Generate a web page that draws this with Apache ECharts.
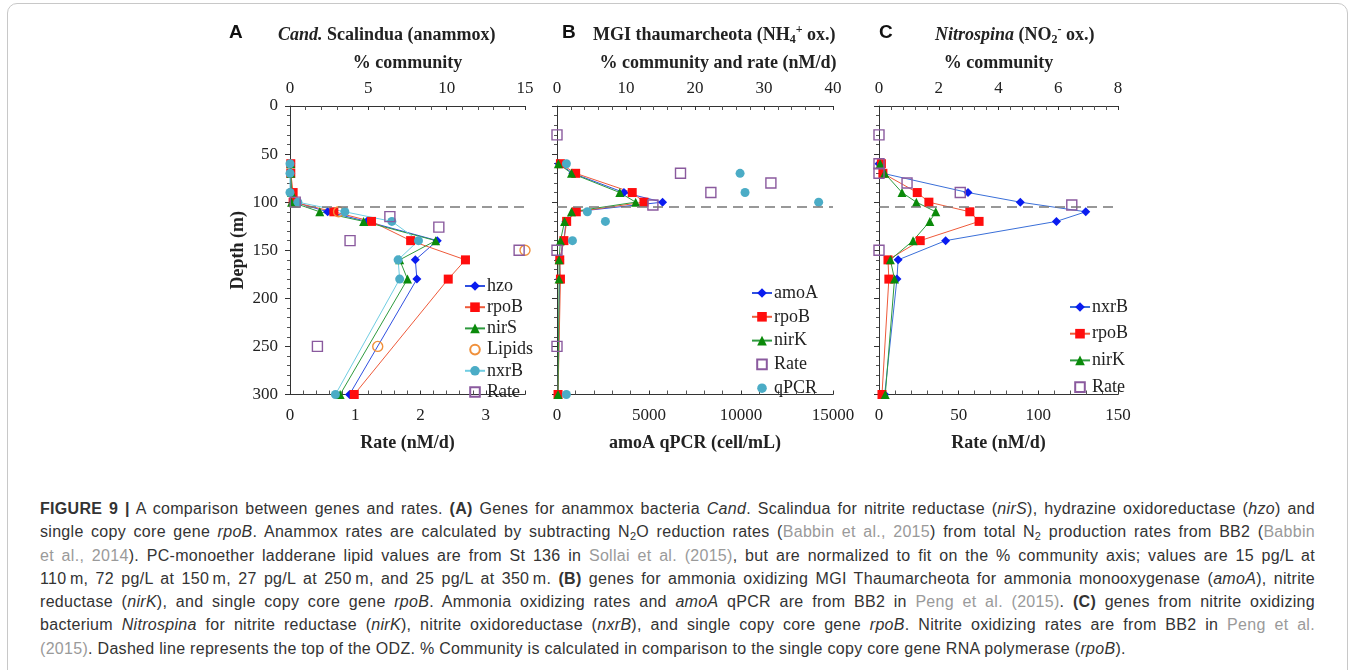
<!DOCTYPE html>
<html>
<head>
<meta charset="utf-8">
<script src="https://cdn.jsdelivr.net/npm/echarts@6/dist/echarts.min.js"></script>
<style>
  body { margin: 0; background: #fff; }
  #frame { position: absolute; left: 7px; top: 3px; width: 1339px; height: 720px; border: 1.5px solid #c8c8c8; border-radius: 10px; }
  #chart { position: absolute; left: 0; top: 0; width: 1355px; height: 470px; }
  #caption { position: absolute; left: 40px; top: 497px; width: 1275px; font-family: 'Liberation Sans', Arial, sans-serif; font-size: 16px; letter-spacing: 0.3px; line-height: 23.3px; color: #333; }
  #caption div { text-align: justify; text-align-last: justify; white-space: nowrap; }
  #caption div.last { text-align-last: left; }
  #caption .ref { color: #9a9a9a; }
  #caption sub { font-size: 11px; line-height: 0; vertical-align: -3px; }
</style>
</head>
<body>
<div id="frame"></div>
<div id="chart"></div>
<div id="caption">
  <div><b>FIGURE 9 |</b> A comparison between genes and rates. <b>(A)</b> Genes for anammox bacteria <i>Cand</i>. Scalindua for nitrite reductase (<i>nirS</i>), hydrazine oxidoreductase (<i>hzo</i>) and</div>
  <div>single copy core gene <i>rpoB</i>. Anammox rates are calculated by subtracting N<sub>2</sub>O reduction rates (<span class="ref">Babbin et al., 2015</span>) from total N<sub>2</sub> production rates from BB2 (<span class="ref">Babbin</span></div>
  <div><span class="ref">et al., 2014</span>). PC-monoether ladderane lipid values are from St 136 in <span class="ref">Sollai et al. (2015)</span>, but are normalized to fit on the % community axis; values are 15 pg/L at</div>
  <div>110&#8201;m, 72 pg/L at 150&#8201;m, 27 pg/L at 250&#8201;m, and 25 pg/L at 350&#8201;m. <b>(B)</b> genes for ammonia oxidizing MGI Thaumarcheota for ammonia monooxygenase (<i>amoA</i>), nitrite</div>
  <div>reductase (<i>nirK</i>), and single copy core gene <i>rpoB</i>. Ammonia oxidizing rates and <i>amoA</i> qPCR are from BB2 in <span class="ref">Peng et al. (2015)</span>. <b>(C)</b> genes from nitrite oxidizing</div>
  <div>bacterium <i>Nitrospina</i> for nitrite reductase (<i>nirK</i>), nitrite oxidoreductase (<i>nxrB</i>), and single copy core gene <i>rpoB</i>. Nitrite oxidizing rates are from BB2 in <span class="ref">Peng et al.</span></div>
  <div class="last"><span class="ref">(2015)</span>. Dashed line represents the top of the ODZ. % Community is calculated in comparison to the single copy core gene RNA polymerase (<i>rpoB</i>).</div>
</div>
<script>
// sampling depths (m) for the gene profiles
var geneDepths = [60, 70, 90, 100, 110, 120, 140, 160, 180, 300];

// A: Cand. Scalindua, % community
var hzoA = [0.05, 0.05, 0.1, 0.3, 2.4, 4.9, 9.4, 8.0, 8.1, 3.8];
var rpoBA = [0.05, 0.05, 0.2, 0.2, 2.8, 5.2, 7.7, 11.2, 10.1, 4.1];
var nirSA = [0.05, 0.05, 0.1, 0.1, 1.9, 4.7, 9.3, 7.0, 7.5, 3.2];
var nxrBA = [0, 0, 0, 0.5, 3.5, 6.5, 8.2, 6.9, 7.0, 2.9];
var lipidDepthsA = [110, 150, 250];
var lipidsA = [3.1, 15.0, 5.6];
var rateDepthsA = [100, 115, 126, 140, 150, 250];
var rateA = [0.08, 1.53, 2.28, 0.92, 3.51, 0.42];

// B: MGI thaumarcheota, % community and rate
var amoAB = [0.3, 2.3, 9.7, 15.3, 2.5, 1.3, 1.0, 0.4, 0.4, 0.15];
var rpoBB = [0.5, 2.7, 10.9, 12.6, 2.8, 1.4, 1.0, 0.4, 0.5, 0.15];
var nirKB = [0.2, 2.1, 9.1, 11.4, 2.1, 1.1, 0.5, 0.3, 0.3, 0.15];
var rateDepthsB = [30, 70, 80, 90, 103, 150, 250];
var rateB = [0, 17.9, 31, 22.3, 13.9, 0, 0];
var qpcrDepthsB = [60, 70, 90, 100, 110, 120, 140, 300];
var qpcrB = [510, 9950, 10220, 14220, 1650, 2630, 840, 510];

// C: Nitrospina, % community
var nxrBC = [0.0, 0.13, 2.98, 4.73, 6.92, 5.94, 2.23, 0.64, 0.6, 0.19];
var rpoBC = [0.08, 0.13, 1.28, 1.67, 3.04, 3.35, 1.38, 0.3, 0.33, 0.1];
var nirKC = [0.04, 0.19, 0.77, 1.25, 1.9, 1.7, 1.14, 0.38, 0.52, 0.21];
var rateDepthsC = [30, 60, 70, 80, 90, 103, 150];
var rateC = [0, 0, 0, 17.6, 51, 121, 0];

var odzTop = 105;

var serif = "Liberation Serif";
var sans = "Liberation Sans";
var ink = '#222';

function pairs(xs, ys) {
  return xs.map(function (x, i) { return [x, ys[i]]; });
}

function lineSeries(name, xi, yi, xs, ys, symbol, fill, line) {
  return {
    name: name, type: 'line', xAxisIndex: xi, yAxisIndex: yi,
    data: pairs(xs, ys), symbol: symbol, symbolSize: 9,
    itemStyle: { color: fill },
    lineStyle: { color: line, width: 1 }
  };
}

// markers only (rates, lipids, qPCR)
function markSeries(name, xi, yi, xs, ys, symbol, color, open) {
  return {
    name: name, type: 'line', xAxisIndex: xi, yAxisIndex: yi,
    data: pairs(xs, ys), symbol: symbol, symbolSize: open ? 10 : 9,
    itemStyle: open ? { color: 'rgba(255,255,255,0)', borderColor: color, borderWidth: 1.4 } : { color: color },
    lineStyle: { width: 0, opacity: 0 }
  };
}

function odzLine(s) {
  s.markLine = {
    silent: true, symbol: 'none', label: { show: false },
    lineStyle: { type: [10, 6], color: '#777', width: 1.5 },
    data: [{ yAxis: odzTop }]
  };
  return s;
}

// tick labels go through rich text so they keep the serif face
function tickText(v) { return '{n|' + v + '}'; }
var tickRich = { n: { fontFamily: serif, fontSize: 17, color: ink } };

function xAxis(gi, pos, max, interval, name) {
  return {
    type: 'value', gridIndex: gi, position: pos, min: 0, max: max, interval: interval,
    name: name, nameLocation: 'middle', nameGap: pos === 'top' ? 34 : 40,
    nameTextStyle: { fontFamily: serif, fontSize: 18, fontWeight: 'bold', color: ink },
    axisLine: { show: true, onZero: false, lineStyle: { color: '#333', width: 1 } },
    axisTick: { show: true, inside: true, length: 4, lineStyle: { color: '#333' } },
    minorTick: { show: true, splitNumber: 5, length: 4, lineStyle: { color: '#555' } },
    axisLabel: {
      fontFamily: serif, fontSize: 17, color: ink, margin: pos === 'top' ? 9 : 13,
      showMaxLabel: Number.isInteger(max / interval), formatter: tickText, rich: tickRich
    },
    splitLine: { show: false }
  };
}

function yAxis(gi, labels) {
  return {
    type: 'value', gridIndex: gi, inverse: true, min: 0, max: 300, interval: 50,
    name: labels ? 'Depth (m)' : '', nameLocation: 'middle', nameGap: 43,
    nameTextStyle: { fontFamily: serif, fontSize: 18, fontWeight: 'bold', color: ink },
    axisLine: { show: true, lineStyle: { color: '#333', width: 1 } },
    axisTick: { show: true, length: 5, lineStyle: { color: '#333' } },
    minorTick: { show: true, splitNumber: 5, length: 3, lineStyle: { color: '#555' } },
    axisLabel: { show: labels, fontFamily: serif, fontSize: 17, color: ink, margin: 12, formatter: tickText, rich: tickRich },
    splitLine: { show: false }
  };
}

function legend(names, left, top, gap) {
  return {
    data: names, orient: 'vertical', left: left, top: top, padding: 0,
    itemWidth: 20, itemHeight: 12, itemGap: gap,
    formatter: function (n) { return n.split('|')[1]; },
    textStyle: { fontFamily: serif, fontSize: 18, color: ink, lineHeight: 17, padding: [0, 0, 0, -3] },
    selectedMode: false
  };
}

var BLUE = '#0a1cf0', RED = '#ff0d0d', GREEN = '#0a8a0a', CYAN = '#4bacc6', PURPLE = '#8a5a9e', ORANGE = '#f0903b';

var series = [
  // A
  odzLine(lineSeries('A|hzo', 0, 0, hzoA, geneDepths, 'diamond', BLUE, '#3050e0')),
  lineSeries('A|rpoB', 0, 0, rpoBA, geneDepths, 'rect', RED, '#ee5a3a'),
  lineSeries('A|nirS', 0, 0, nirSA, geneDepths, 'triangle', GREEN, '#2e9a3e'),
  markSeries('A|Lipids', 0, 0, lipidsA, lipidDepthsA, 'circle', ORANGE, true),
  lineSeries('A|nxrB', 0, 0, nxrBA, geneDepths, 'circle', CYAN, '#70cde2'),
  markSeries('A|Rate', 1, 0, rateA, rateDepthsA, 'rect', PURPLE, true),
  // B
  odzLine(lineSeries('B|amoA', 2, 1, amoAB, geneDepths, 'diamond', BLUE, '#3050e0')),
  lineSeries('B|rpoB', 2, 1, rpoBB, geneDepths, 'rect', RED, '#ee5a3a'),
  lineSeries('B|nirK', 2, 1, nirKB, geneDepths, 'triangle', GREEN, '#2e9a3e'),
  markSeries('B|Rate', 2, 1, rateB, rateDepthsB, 'rect', PURPLE, true),
  markSeries('B|qPCR', 3, 1, qpcrB, qpcrDepthsB, 'circle', CYAN, false),
  // C
  odzLine(lineSeries('C|nxrB', 4, 2, nxrBC, geneDepths, 'diamond', BLUE, '#3a6fd8')),
  lineSeries('C|rpoB', 4, 2, rpoBC, geneDepths, 'rect', RED, '#ee5a3a'),
  lineSeries('C|nirK', 4, 2, nirKC, geneDepths, 'triangle', GREEN, '#2e9a3e'),
  markSeries('C|Rate', 5, 2, rateC, rateDepthsC, 'rect', PURPLE, true)
];

var titleRich = {
  b: { fontFamily: serif, fontSize: 18, fontWeight: 'bold', fill: ink, color: ink, lineHeight: 22 },
  i: { fontFamily: serif, fontSize: 18, fontWeight: 'bold', fontStyle: 'italic', fill: ink, color: ink, lineHeight: 22 },
  sub: { fontFamily: serif, fontSize: 12, fontWeight: 'bold', fill: ink, color: ink, lineHeight: 12, verticalAlign: 'bottom' },
  sup: { fontFamily: serif, fontSize: 12, fontWeight: 'bold', fill: ink, color: ink, lineHeight: 12, verticalAlign: 'top' }
};

function letter(t, x) {
  return { type: 'text', x: x, y: 33, style: { text: t, font: 'bold 19px ' + sans, fill: '#111', verticalAlign: 'middle' } };
}
function title(t, x) {
  return { type: 'text', x: x, y: 35, style: { text: t, rich: titleRich, verticalAlign: 'middle' } };
}

var option = {
  animation: false,
  textStyle: { fontFamily: serif },
  grid: [
    { left: 290, top: 106, width: 235, height: 288.5 },
    { left: 557, top: 106, width: 276, height: 288.5 },
    { left: 879, top: 106, width: 239, height: 288.5 }
  ],
  xAxis: [
    xAxis(0, 'top', 15, 5, '% community'),
    xAxis(0, 'bottom', 3.6, 1, 'Rate (nM/d)'),
    xAxis(1, 'top', 40, 10, '% community and rate (nM/d)'),
    xAxis(1, 'bottom', 15000, 5000, 'amoA qPCR (cell/mL)'),
    xAxis(2, 'top', 8, 2, '% community'),
    xAxis(2, 'bottom', 150, 50, 'Rate (nM/d)')
  ],
  yAxis: [yAxis(0, true), yAxis(1, false), yAxis(2, false)],
  legend: [
    legend(['A|hzo', 'A|rpoB', 'A|nirS', 'A|Lipids', 'A|nxrB', 'A|Rate'], 464, 277, 3.2),
    legend(['B|amoA', 'B|rpoB', 'B|nirK', 'B|Rate', 'B|qPCR'], 751, 284, 5.8),
    legend(['C|nxrB', 'C|rpoB', 'C|nirK', 'C|Rate'], 1069, 298, 8.7)
  ],
  graphic: [
    letter('A', 229), title('{i|Cand.}{b| Scalindua (anammox)}', 278),
    letter('B', 562), title('{b|MGI thaumarcheota (NH}{sub|4}{sup|+}{b| ox.)}', 593),
    letter('C', 879), title('{i|Nitrospina}{b| (NO}{sub|2}{sup|-}{b| ox.)}', 935)
  ],
  series: series
};
// B's top-axis name sits a little right of the panel centre
option.xAxis[2].nameTextStyle.padding = [0, 0, 0, 46];

var myChart = echarts.init(document.getElementById('chart'));
myChart.setOption(option);
window.addEventListener('resize', function () { myChart.resize(); });
</script>
</body>
</html>
